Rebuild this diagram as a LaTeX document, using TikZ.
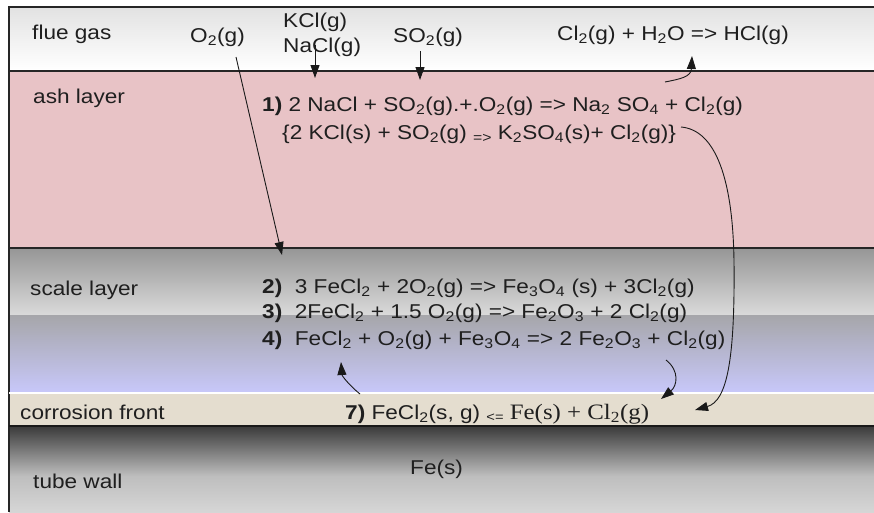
\documentclass[tikz,border=0pt]{standalone}
\usepackage{fontspec}
\setmainfont{Liberation Sans}
\newfontfamily\serifchem{Liberation Serif}
\usetikzlibrary{arrows.meta,calc}
\definecolor{FlueClr}{RGB}{226,226,226}
\definecolor{AshClr}{RGB}{232,195,198}
\definecolor{ScaleTopClr}{RGB}{150,150,150}
\definecolor{ScaleMidClr}{RGB}{218,218,218}
\definecolor{ScaleLowClr}{RGB}{166,166,170}
\definecolor{LavClr}{RGB}{200,200,250}
\definecolor{FrontClr}{RGB}{228,221,207}
\definecolor{WallTopClr}{RGB}{58,58,58}
\definecolor{WallMidClr}{RGB}{190,190,190}
\definecolor{WallLowClr}{RGB}{214,214,214}

\tikzset{
  lbl/.style={font=\fontsize{20}{22}\selectfont,xscale=1.13,transform shape,
    inner sep=0pt,anchor=base west,text=black!88},
  flow/.style={-{Triangle[length=13pt,width=9pt]},line width=0.9pt,black!90},
  border/.style={line width=1.5pt,black!85}
}

\begin{document}
\begin{tikzpicture}[x=1pt,y=-1pt]
\useasboundingbox (0,0) rectangle (874,512);

% layers
\shade[top color=FlueClr,bottom color=white] (9,7) rectangle (874,70);
\fill[AshClr] (9,70) rectangle (874,248);
\shade[top color=ScaleTopClr,bottom color=ScaleMidClr] (9,248) rectangle (874,315);
\shade[top color=ScaleLowClr,bottom color=LavClr] (9,315) rectangle (874,393);
\fill[FrontClr] (9,393) rectangle (874,426);
\shade[top color=WallTopClr,bottom color=WallMidClr] (9,426) rectangle (874,476);
\shade[top color=WallMidClr,bottom color=WallLowClr] (9,476) rectangle (874,512);

\draw[border] (874,7) -- (9,7) -- (9,512);
\draw[border] (9,71) -- (874,71);
\draw[border] (9,248) -- (874,248);
\draw[white,line width=1.5pt] (9,393) -- (874,393);
\draw[line width=2pt,black!90] (9,426) -- (874,426);

% layer names
\node[lbl] (flue) at (32,39) {flue gas};
\node[lbl] (ash) at (33,103) {ash layer};
\node[lbl] (scale) at (30,295) {scale layer};
\node[lbl] (front) at (20,419) {corrosion front};
\node[lbl] (wall) at (33,488) {tube wall};

% gas species
\node[lbl] (o2) at (190,42) {O\textsubscript{2}(g)};
\node[lbl] (kcl) at (283,27) {KCl(g)};
\node[lbl] (nacl) at (283,52) {NaCl(g)};
\node[lbl] (so2) at (393,42) {SO\textsubscript{2}(g)};
\node[lbl] (hcl) at (557,40) {Cl\textsubscript{2}(g) + H\textsubscript{2}O => HCl(g)};

% reactions
\node[lbl] (r1) at (262,111) {\textbf{1)} 2 NaCl + SO\textsubscript{2}(g).+.O\textsubscript{2}(g) => Na\textsubscript{2} SO\textsubscript{4} + Cl\textsubscript{2}(g)};
\node[lbl] (r1b) at (282,139) {\{2 KCl(s) + SO\textsubscript{2}(g) \raisebox{-3pt}{\fontsize{14}{15}\selectfont =>} K\textsubscript{2}SO\textsubscript{4}(s)+ Cl\textsubscript{2}(g)\}};
\node[lbl] (r2) at (262,293) {\textbf{2)}\ \ 3 FeCl\textsubscript{2} + 2O\textsubscript{2}(g) => Fe\textsubscript{3}O\textsubscript{4} (s) + 3Cl\textsubscript{2}(g)};
\node[lbl] (r3) at (262,318) {\textbf{3)}\ \ 2FeCl\textsubscript{2} + 1.5 O\textsubscript{2}(g) => Fe\textsubscript{2}O\textsubscript{3} + 2 Cl\textsubscript{2}(g)};
\node[lbl] (r4) at (262,345) {\textbf{4)}\ \ FeCl\textsubscript{2} + O\textsubscript{2}(g) + Fe\textsubscript{3}O\textsubscript{4} => 2 Fe\textsubscript{2}O\textsubscript{3} + Cl\textsubscript{2}(g)};
\node[lbl] (r7) at (345,419) {\textbf{7)}\ FeCl\textsubscript{2}(s, g) \raisebox{-2pt}{\fontsize{13}{14}\selectfont <=} {\serifchem\fontsize{22}{24}\selectfont Fe(s) + Cl\textsubscript{2}(g)}};
\node[lbl] (fe) at (410,474) {Fe(s)};

% arrow ends
\coordinate (o2a) at (236,57);
\coordinate (o2b) at (282,255);
\coordinate (kcla) at (315,45);
\coordinate (kclb) at (315,78);
\coordinate (so2a) at (420,51);
\coordinate (so2b) at (420,80);
\coordinate (cla) at (665,82);
\coordinate (clb) at (692,56);
\coordinate (r1a) at (681,127);
\coordinate (frontb) at (695,410);
\coordinate (r4a) at (666,360);
\coordinate (r4b) at (661,399);
\coordinate (r7a) at (360,394);
\coordinate (r7b) at (341,362);

\draw[flow] (o2a) -- (o2b);
\draw[flow] (kcla) -- (kclb);
\draw[flow] (so2a) -- (so2b);
\draw[flow] (cla) .. controls (680,79) and (691,77) .. (clb);
\draw[flow] (r1a) .. controls (716,130) and (733,180) .. (734,262)
  .. controls (735,360) and (727,401) .. (frontb);
\draw[flow] (r4a) .. controls (680,371) and (677,386) .. (r4b);
\draw[flow] (r7a) .. controls (350,386) and (342,376) .. (r7b);

\end{tikzpicture}
\end{document}
